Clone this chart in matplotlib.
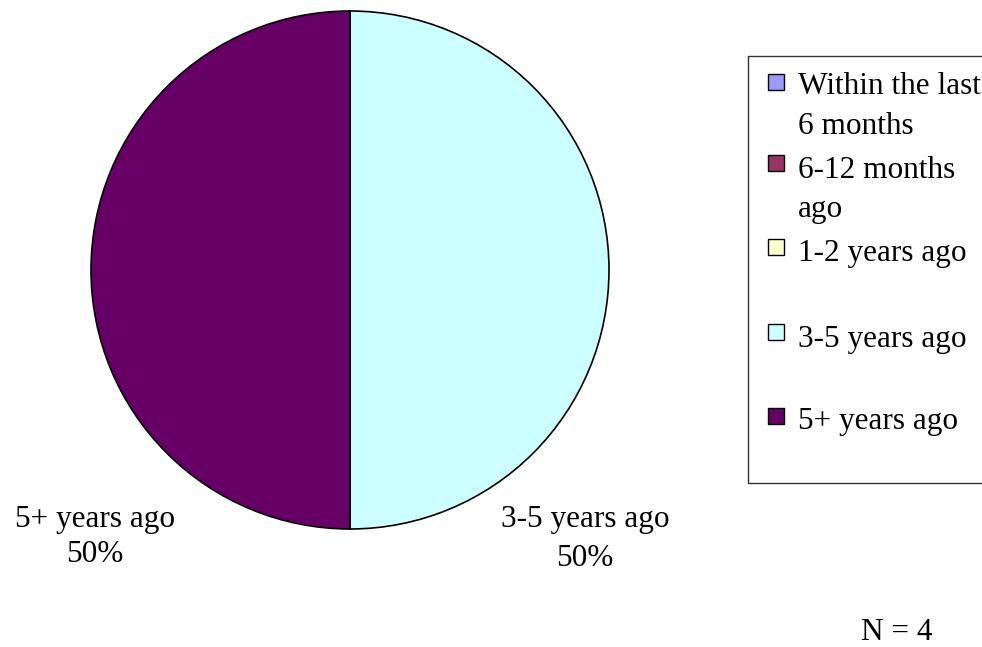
import matplotlib

matplotlib.use("Agg")
import matplotlib.pyplot as plt
from matplotlib.patches import Rectangle

# data
categories = ["Within the last 6 months", "6-12 months ago", "1-2 years ago",
              "3-5 years ago", "5+ years ago"]
legend_labels = ["Within the last\n6 months", "6-12 months\nago", "1-2 years ago",
                 "3-5 years ago", "5+ years ago"]
counts = [0, 0, 0, 2, 2]
colors = ["#9999FF", "#993366", "#FFFFCC", "#CCFFFF", "#660066"]
n_total = sum(counts)

plt.rcParams["font.family"] = ["Liberation Serif", "DejaVu Serif"]
FS = 22.5
W, H = 982, 647

fig = plt.figure(figsize=(W / 100, H / 100), dpi=100)
fig.patch.set_facecolor("white")

# pie: centre (350, 270) px, radius 259 px
cx, cy, r = 350, 270, 259
ax = fig.add_axes([(cx - r) / W, (H - cy - r) / H, 2 * r / W, 2 * r / H])
nz = [(c, col) for c, col in zip(counts, colors) if c > 0]
ax.pie([c for c, _ in nz], colors=[col for _, col in nz], startangle=90,
       counterclock=False, radius=1,
       wedgeprops=dict(edgecolor="black", linewidth=1.2))
ax.set_xlim(-1, 1)
ax.set_ylim(-1, 1)
ax.set_aspect("equal")
ax.axis("off")

# slice labels (Excel places them below the pie)
label_pos = {"3-5 years ago": (585, 539, 1.5), "5+ years ago": (95, 537, 1.25)}
for cat, c in zip(categories, counts):
    if c == 0:
        continue
    px, py, ls = label_pos[cat]
    pct = 100 * c / n_total
    fig.text(px / W, 1 - py / H, f"{cat}\n{pct:.0f}%", ha="center", va="center",
             fontsize=FS, linespacing=ls)

# legend box (clipped on the right like the original)
fig.patches.append(Rectangle((748 / W, 1 - 483 / H), (W + 10 - 748) / W, (483 - 56) / H,
                             transform=fig.transFigure, facecolor="white",
                             edgecolor="#333333", linewidth=1.0, clip_on=False))
sq_y = [82, 163, 247, 332, 416]
txt_y = [106, 190, 254, 339, 422]
for lab, col, sy, ty in zip(legend_labels, colors, sq_y, txt_y):
    fig.patches.append(Rectangle((768 / W, 1 - (sy + 8) / H), 16 / W, 16 / H,
                                 transform=fig.transFigure, facecolor=col,
                                 edgecolor="black", linewidth=1.0))
    fig.text(798 / W, 1 - ty / H, lab, ha="left", va="center", fontsize=FS,
             linespacing=1.5)

fig.text(897 / W, 1 - 632 / H, f"N = {n_total}", ha="center", va="center", fontsize=FS)

fig.savefig("out.png", dpi=100)
